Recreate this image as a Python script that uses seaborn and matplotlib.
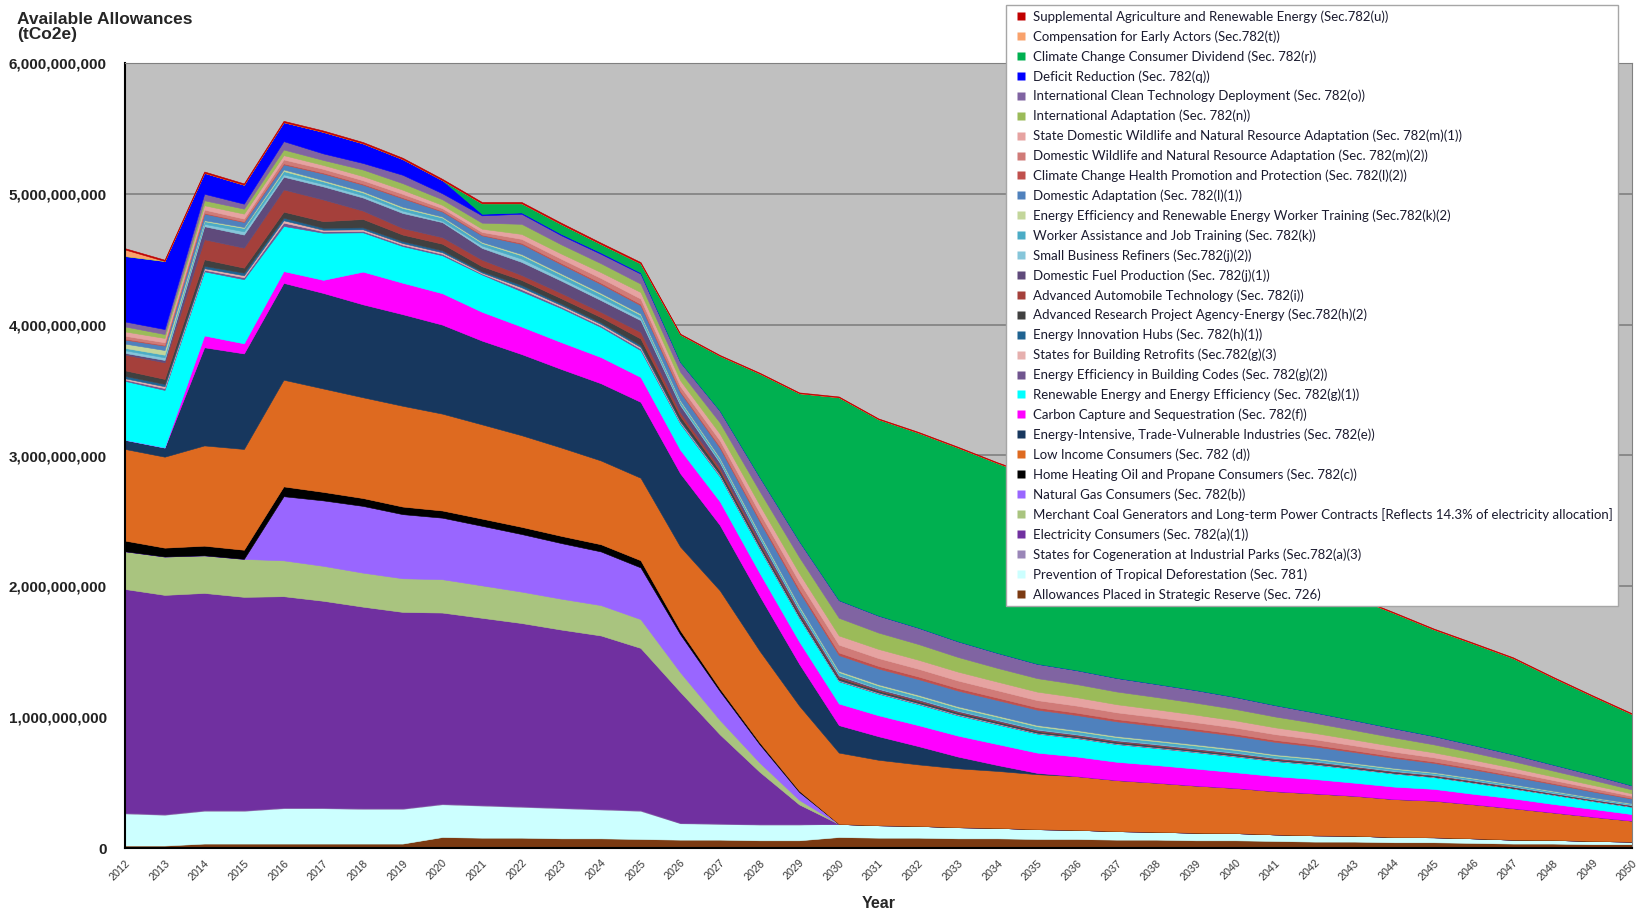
import numpy as np
import pandas as pd
import seaborn as sns
import matplotlib.pyplot as plt
from matplotlib.lines import Line2D
from matplotlib.ticker import FuncFormatter, MultipleLocator

years = list(range(2012, 2051))

# allowances by program, billions of tCO2e (rows: 2012-19, 2020-29, 2030-39, 2040-50)
strategic_reserve = [0.02, 0.02, 0.035, 0.035, 0.035, 0.035, 0.035, 0.035,
                     0.085, 0.08, 0.08, 0.075, 0.075, 0.07, 0.065, 0.065, 0.06, 0.06,
                     0.085, 0.08, 0.08, 0.075, 0.075, 0.07, 0.07, 0.065, 0.065, 0.06,
                     0.06, 0.055, 0.05, 0.05, 0.045, 0.045, 0.04, 0.035, 0.035, 0.03, 0.03]
tropical = [0.245, 0.235, 0.25, 0.25, 0.27, 0.27, 0.265, 0.265,
            0.25, 0.245, 0.235, 0.23, 0.22, 0.215, 0.125, 0.12, 0.12, 0.12,
            0.1, 0.095, 0.09, 0.085, 0.08, 0.075, 0.07, 0.065, 0.06, 0.058,
            0.055, 0.05, 0.048, 0.045, 0.04, 0.038, 0.035, 0.03, 0.028, 0.025, 0.02]
cogeneration = [0.005, 0.005, 0.005, 0.005, 0.005, 0.005, 0.005, 0.005,
                0.005, 0.005, 0.005, 0.005, 0.005, 0.005, 0.004, 0.004, 0.004, 0.004,
                0, 0, 0, 0, 0, 0, 0, 0, 0, 0,
                0, 0, 0, 0, 0, 0, 0, 0, 0, 0, 0]
electricity = [1.71, 1.675, 1.66, 1.63, 1.615, 1.58, 1.54, 1.50,
               1.46, 1.43, 1.40, 1.36, 1.325, 1.24, 1.0, 0.68, 0.4, 0.15,
               0, 0, 0, 0, 0, 0, 0, 0, 0, 0,
               0, 0, 0, 0, 0, 0, 0, 0, 0, 0, 0]
merchant_coal = [0.288, 0.293, 0.287, 0.29, 0.274, 0.267, 0.26, 0.257,
                 0.255, 0.248, 0.24, 0.236, 0.232, 0.22, 0.15, 0.11, 0.07, 0.035,
                 0, 0, 0, 0, 0, 0, 0, 0, 0, 0,
                 0, 0, 0, 0, 0, 0, 0, 0, 0, 0, 0]
natural_gas = [0, 0, 0, 0, 0.49, 0.5, 0.51, 0.49,
               0.47, 0.455, 0.44, 0.425, 0.41, 0.395, 0.29, 0.22, 0.14, 0.06,
               0, 0, 0, 0, 0, 0, 0, 0, 0, 0,
               0, 0, 0, 0, 0, 0, 0, 0, 0, 0, 0]
heating_oil = [0.082, 0.068, 0.074, 0.07, 0.075, 0.065, 0.06, 0.058,
               0.055, 0.055, 0.055, 0.055, 0.055, 0.055, 0.03, 0.02, 0.015, 0.01,
               0, 0, 0, 0, 0, 0, 0, 0, 0, 0,
               0, 0, 0, 0, 0, 0, 0, 0, 0, 0, 0]
low_income = [0.70, 0.695, 0.766, 0.77, 0.815, 0.79, 0.77, 0.77,
              0.74, 0.72, 0.70, 0.675, 0.64, 0.63, 0.64, 0.75, 0.70, 0.65,
              0.545, 0.50, 0.47, 0.45, 0.435, 0.42, 0.41, 0.39, 0.375, 0.36,
              0.345, 0.33, 0.32, 0.305, 0.29, 0.28, 0.26, 0.24, 0.21, 0.185, 0.16]
eite = [0.07, 0.07, 0.75, 0.73, 0.74, 0.73, 0.71, 0.70,
        0.68, 0.64, 0.62, 0.60, 0.59, 0.58, 0.56, 0.50, 0.42, 0.32,
        0.21, 0.18, 0.14, 0.09, 0.045, 0.01, 0, 0, 0, 0,
        0, 0, 0, 0, 0, 0, 0, 0, 0, 0, 0]
ccs = [0, 0, 0.09, 0.077, 0.09, 0.1, 0.25, 0.24,
       0.24, 0.22, 0.21, 0.205, 0.2, 0.19, 0.18, 0.18, 0.175, 0.17,
       0.165, 0.16, 0.16, 0.16, 0.16, 0.155, 0.15, 0.14, 0.135, 0.13,
       0.12, 0.115, 0.11, 0.1, 0.095, 0.09, 0.08, 0.075, 0.065, 0.06, 0.05]
renewable_ee = [0.45, 0.44, 0.49, 0.49, 0.345, 0.36, 0.3, 0.28,
                0.29, 0.285, 0.27, 0.26, 0.23, 0.205, 0.2, 0.19, 0.185, 0.18,
                0.17, 0.165, 0.16, 0.155, 0.15, 0.145, 0.14, 0.135, 0.13, 0.125,
                0.12, 0.115, 0.11, 0.105, 0.1, 0.09, 0.085, 0.075, 0.07, 0.06, 0.055]
building_codes = [0.01, 0.014, 0.012, 0.015, 0.025, 0.011, 0.011, 0.011,
                  0.011, 0.007, 0.015, 0.011, 0.011, 0.012, 0.008, 0.007, 0.006, 0.005,
                  0.004, 0.004, 0.004, 0.004, 0.004, 0.003, 0.003, 0.003, 0.003, 0.003,
                  0.003, 0.003, 0.003, 0.002, 0.002, 0.002, 0.002, 0.002, 0.002, 0.002, 0.002]
retrofits = [0.01, 0.014, 0.012, 0.015, 0.018, 0.012, 0.012, 0.012,
             0.012, 0.008, 0.015, 0.012, 0.012, 0.012, 0.008, 0.007, 0.006, 0.005,
             0.004, 0.004, 0.004, 0.004, 0.004, 0.003, 0.003, 0.003, 0.003, 0.003,
             0.003, 0.003, 0.003, 0.002, 0.002, 0.002, 0.002, 0.002, 0.002, 0.002, 0.002]
innovation_hubs = [0.018, 0.018, 0.018, 0.02, 0.02, 0.015, 0.015, 0.015,
                   0.015, 0.01, 0.018, 0.012, 0.012, 0.015, 0.01, 0.008, 0.007, 0.006,
                   0.006, 0.005, 0.005, 0.005, 0.004, 0.004, 0.004, 0.004, 0.004, 0.004,
                   0.004, 0.003, 0.003, 0.003, 0.003, 0.002, 0.002, 0.002, 0.002, 0.002, 0.002]
arpa_e = [0.043, 0.038, 0.05, 0.038, 0.046, 0.05, 0.064, 0.05,
          0.05, 0.038, 0.038, 0.04, 0.04, 0.05, 0.03, 0.022, 0.017, 0.014,
          0.012, 0.01, 0.01, 0.009, 0.009, 0.009, 0.008, 0.008, 0.008, 0.007,
          0.007, 0.006, 0.006, 0.005, 0.005, 0.004, 0.004, 0.004, 0.003, 0.003, 0.003]
auto_tech = [0.12, 0.127, 0.153, 0.153, 0.17, 0.166, 0.064, 0.05,
             0.05, 0.05, 0.038, 0.04, 0.04, 0.05, 0.03, 0.022, 0.015, 0.01,
             0.008, 0.006, 0.006, 0.005, 0.005, 0.005, 0.005, 0.005, 0.005, 0.005,
             0.005, 0.004, 0.004, 0.004, 0.003, 0.003, 0.003, 0.003, 0.002, 0.002, 0.002]
domestic_fuel = [0.013, 0.018, 0.1, 0.1, 0.097, 0.1, 0.1, 0.115,
                 0.115, 0.09, 0.1, 0.095, 0.09, 0.09, 0.055, 0.04, 0.028, 0.018,
                 0.01, 0.008, 0.008, 0.007, 0.007, 0.007, 0.006, 0.006, 0.006, 0.006,
                 0.006, 0.005, 0.005, 0.005, 0.004, 0.004, 0.004, 0.003, 0.003, 0.003, 0.003]
refiners = [0.02, 0.02, 0.018, 0.025, 0.018, 0.018, 0.018, 0.018,
            0.01, 0.018, 0.025, 0.02, 0.02, 0.018, 0.012, 0.01, 0.008, 0.007,
            0.006, 0.005, 0.005, 0.005, 0.005, 0.005, 0.005, 0.005, 0.005, 0.005,
            0.005, 0.004, 0.004, 0.004, 0.004, 0.003, 0.003, 0.003, 0.003, 0.003, 0.003]
worker_assist = [0.018, 0.02, 0.02, 0.025, 0.025, 0.02, 0.02, 0.02,
                 0.025, 0.02, 0.025, 0.025, 0.025, 0.022, 0.018, 0.019, 0.02, 0.02,
                 0.02, 0.02, 0.02, 0.02, 0.02, 0.02, 0.019, 0.019, 0.018, 0.018,
                 0.017, 0.016, 0.015, 0.014, 0.013, 0.012, 0.011, 0.01, 0.009, 0.008, 0.007]
ee_worker = [0.033, 0.036, 0.008, 0.008, 0.013, 0.01, 0.01, 0.01,
             0.008, 0.008, 0.01, 0.01, 0.01, 0.01, 0.008, 0.009, 0.01, 0.01,
             0.01, 0.01, 0.01, 0.01, 0.01, 0.01, 0.009, 0.009, 0.009, 0.009,
             0.009, 0.008, 0.008, 0.007, 0.007, 0.006, 0.006, 0.005, 0.005, 0.004, 0.004]
domestic_adapt = [0.03, 0.033, 0.05, 0.038, 0.038, 0.05, 0.05, 0.064,
                  0.038, 0.05, 0.077, 0.07, 0.068, 0.064, 0.06, 0.075, 0.092, 0.108,
                  0.12, 0.12, 0.12, 0.12, 0.118, 0.117, 0.115, 0.112, 0.108, 0.104,
                  0.1, 0.095, 0.088, 0.083, 0.077, 0.07, 0.064, 0.058, 0.051, 0.044, 0.035]
health = [0.008, 0.006, 0.006, 0.006, 0.008, 0.008, 0.008, 0.008,
          0.006, 0.006, 0.009, 0.01, 0.01, 0.011, 0.01, 0.013, 0.016, 0.018,
          0.02, 0.02, 0.02, 0.019, 0.019, 0.018, 0.018, 0.017, 0.017, 0.016,
          0.015, 0.015, 0.014, 0.013, 0.012, 0.011, 0.01, 0.009, 0.008, 0.007, 0.005]
domestic_wildlife = [0.022, 0.02, 0.025, 0.02, 0.03, 0.028, 0.026, 0.026,
                     0.02, 0.02, 0.03, 0.032, 0.036, 0.04, 0.037, 0.044, 0.05, 0.056,
                     0.06, 0.06, 0.059, 0.058, 0.056, 0.055, 0.054, 0.052, 0.05, 0.049,
                     0.047, 0.044, 0.041, 0.038, 0.035, 0.032, 0.029, 0.026, 0.023, 0.02, 0.016]
state_wildlife = [0.033, 0.033, 0.033, 0.038, 0.033, 0.03, 0.032, 0.032,
                  0.025, 0.025, 0.038, 0.04, 0.045, 0.05, 0.045, 0.052, 0.06, 0.066,
                  0.07, 0.07, 0.069, 0.068, 0.066, 0.065, 0.064, 0.062, 0.06, 0.058,
                  0.055, 0.052, 0.048, 0.045, 0.042, 0.038, 0.035, 0.032, 0.028, 0.024, 0.019]
intl_adapt = [0.038, 0.03, 0.038, 0.038, 0.043, 0.038, 0.05, 0.05,
              0.043, 0.046, 0.077, 0.07, 0.068, 0.064, 0.065, 0.085, 0.105, 0.122,
              0.135, 0.125, 0.12, 0.112, 0.105, 0.103, 0.1, 0.097, 0.094, 0.091,
              0.087, 0.083, 0.077, 0.072, 0.067, 0.061, 0.055, 0.05, 0.044, 0.038, 0.03]
intl_clean_tech = [0.038, 0.038, 0.05, 0.038, 0.064, 0.05, 0.05, 0.064,
                   0.046, 0.056, 0.077, 0.07, 0.072, 0.077, 0.075, 0.09, 0.108, 0.122,
                   0.135, 0.13, 0.125, 0.12, 0.115, 0.11, 0.107, 0.104, 0.1, 0.097,
                   0.092, 0.087, 0.08, 0.075, 0.07, 0.064, 0.058, 0.053, 0.046, 0.04, 0.031]
deficit = [0.5, 0.52, 0.16, 0.145, 0.145, 0.165, 0.15, 0.12,
           0.1, 0.012, 0.01, 0.01, 0.01, 0.008, 0, 0, 0, 0,
           0, 0, 0, 0, 0, 0, 0, 0, 0, 0,
           0, 0, 0, 0, 0, 0, 0, 0, 0, 0, 0]
dividend = [0, 0, 0, 0, 0, 0, 0, 0,
            0, 0.08, 0.07, 0.075, 0.065, 0.07, 0.21, 0.42, 0.79, 1.13,
            1.55, 1.5, 1.49, 1.48, 1.45, 1.425, 1.355, 1.3, 1.23, 1.165,
            1.1, 1.05, 0.99, 0.94, 0.88, 0.815, 0.775, 0.735, 0.665, 0.6, 0.545]
early_actors = [0.05, 0, 0, 0, 0, 0, 0, 0,
                0, 0, 0, 0, 0, 0, 0, 0, 0, 0,
                0, 0, 0, 0, 0, 0, 0, 0, 0, 0,
                0, 0, 0, 0, 0, 0, 0, 0, 0, 0, 0]
supplemental_ag = [0.01, 0.01, 0.01, 0.01, 0.01, 0.01, 0.01, 0.01,
                   0.01, 0.01, 0.01, 0.01, 0.01, 0.01, 0.006, 0.006, 0.006, 0.006,
                   0.006, 0.006, 0.006, 0.006, 0.006, 0.006, 0.006, 0.006, 0.006, 0.006,
                   0.006, 0.006, 0.006, 0.006, 0.006, 0.006, 0.006, 0.006, 0.006, 0.006, 0.006]

# stacking order: bottom first
series = [
    ("Allowances Placed in Strategic Reserve (Sec. 726)", strategic_reserve, "#7B3A12"),
    ("Prevention of Tropical Deforestation (Sec. 781)", tropical, "#CCFFFF"),
    ("States for Cogeneration at Industrial Parks (Sec.782(a)(3)", cogeneration, "#9A86B8"),
    ("Electricity Consumers (Sec. 782(a)(1))", electricity, "#7030A0"),
    ("Merchant Coal Generators and Long-term Power Contracts [Reflects 14.3% of electricity allocation]", merchant_coal, "#A9C47F"),
    ("Natural Gas Consumers (Sec. 782(b))", natural_gas, "#9966FF"),
    ("Home Heating Oil and Propane Consumers (Sec. 782(c))", heating_oil, "#000000"),
    ("Low Income Consumers (Sec. 782 (d))", low_income, "#DE6A20"),
    ("Energy-Intensive, Trade-Vulnerable Industries (Sec. 782(e))", eite, "#17375E"),
    ("Carbon Capture and Sequestration (Sec. 782(f))", ccs, "#FF00FF"),
    ("Renewable Energy and Energy Efficiency (Sec. 782(g)(1))", renewable_ee, "#00FFFF"),
    ("Energy Efficiency in Building Codes (Sec. 782(g)(2))", building_codes, "#70558F"),
    ("States for Building Retrofits (Sec.782(g)(3)", retrofits, "#E6B0AE"),
    ("Energy Innovation Hubs (Sec. 782(h)(1))", innovation_hubs, "#1F6391"),
    ("Advanced Research Project Agency-Energy (Sec.782(h)(2)", arpa_e, "#404040"),
    ("Advanced Automobile Technology (Sec. 782(i))", auto_tech, "#A5403B"),
    ("Domestic Fuel Production (Sec. 782(j)(1))", domestic_fuel, "#5F4A7B"),
    ("Small Business Refiners (Sec.782(j)(2))", refiners, "#86C6DA"),
    ("Worker Assistance and Job Training (Sec. 782(k))", worker_assist, "#4BACC6"),
    ("Energy Efficiency and Renewable Energy Worker Training (Sec.782(k)(2)", ee_worker, "#C3D69B"),
    ("Domestic Adaptation (Sec. 782(l)(1))", domestic_adapt, "#4F81BD"),
    ("Climate Change Health Promotion and Protection (Sec. 782(l)(2))", health, "#C0504D"),
    ("Domestic Wildlife and Natural Resource Adaptation (Sec. 782(m)(2))", domestic_wildlife, "#D07B78"),
    ("State Domestic Wildlife and Natural Resource Adaptation (Sec. 782(m)(1))", state_wildlife, "#E6A3A1"),
    ("International Adaptation (Sec. 782(n))", intl_adapt, "#9BBB59"),
    ("International Clean Technology Deployment (Sec. 782(o))", intl_clean_tech, "#8064A2"),
    ("Deficit Reduction (Sec. 782(q))", deficit, "#0000FF"),
    ("Climate Change Consumer Dividend (Sec. 782(r))", dividend, "#00B050"),
    ("Compensation for Early Actors (Sec.782(t))", early_actors, "#F9A26C"),
    ("Supplemental Agriculture and Renewable Energy (Sec.782(u))", supplemental_ag, "#C00000"),
]

df = pd.DataFrame({name: np.array(vals) * 1e9 for name, vals, _ in series}, index=years)
colors = [c for _, _, c in series]

sns.set_style("white")
plt.rcParams['font.family'] = ['Liberation Sans', 'DejaVu Sans']

fig = plt.figure(figsize=(16.48, 9.11), dpi=100)
ax = fig.add_axes([0.0758, 0.069, 0.9145, 0.862])
ax.set_facecolor('#C0C0C0')

polys = ax.stackplot(df.index, df.T.values, colors=colors)
for p, c in zip(polys, colors):
    p.set_edgecolor(c)
    p.set_linewidth(0.4)

ax.set_xlim(2012, 2050)
ax.set_ylim(0, 6e9)
ax.yaxis.set_major_locator(MultipleLocator(1e9))
ax.yaxis.set_major_formatter(FuncFormatter(lambda v, p: f"{v:,.0f}"))
ax.set_axisbelow(True)
ax.grid(axis='y', color='#808080', linewidth=1.2)
ax.grid(axis='x', visible=False)

ax.set_xticks(years)
ax.set_xticklabels([str(y) for y in years], rotation=45, ha='right',
                   rotation_mode='anchor', fontsize=7.8, color='#333333')
for lbl in ax.get_yticklabels():
    lbl.set_fontweight('bold')
    lbl.set_fontsize(11)
    lbl.set_color('#222222')
ax.tick_params(axis='y', direction='out', length=5, width=1, color='#808080', pad=8)
ax.tick_params(axis='x', direction='out', length=4, width=1, color='#808080', pad=3)

ax.spines['left'].set_color('black')
ax.spines['left'].set_linewidth(1.5)
ax.spines['bottom'].set_color('black')
ax.spines['bottom'].set_linewidth(1.5)
ax.spines['top'].set_color('#808080')
ax.spines['right'].set_color('#808080')

ax.set_xlabel("Year", fontsize=11.5, fontweight='bold', labelpad=10)
fig.text(0.0103, 0.987, "Available Allowances\n(tCo2e)", ha='left', va='top',
         fontsize=12.5, fontweight='bold', linespacing=1.0)

handles = [Line2D([], [], linestyle='none', marker='s', markersize=5.4,
                  markerfacecolor=c, markeredgecolor='none') for _, _, c in series][::-1]
labels = [name for name, _, _ in series][::-1]
leg = fig.legend(handles, labels, loc='upper left', bbox_to_anchor=(0.6104, 0.9945),
                 frameon=True, fancybox=False, framealpha=1, edgecolor='#A6A6A6',
                 borderaxespad=0, prop={'family': ['Lato', 'DejaVu Sans'], 'size': 9.55},
                 handlelength=1.5, handletextpad=0.15,
                 labelspacing=0.555, borderpad=0.4)
for t in leg.get_texts():
    t.set_color('#1A1A2E')

fig.savefig("out.png", dpi=100)
